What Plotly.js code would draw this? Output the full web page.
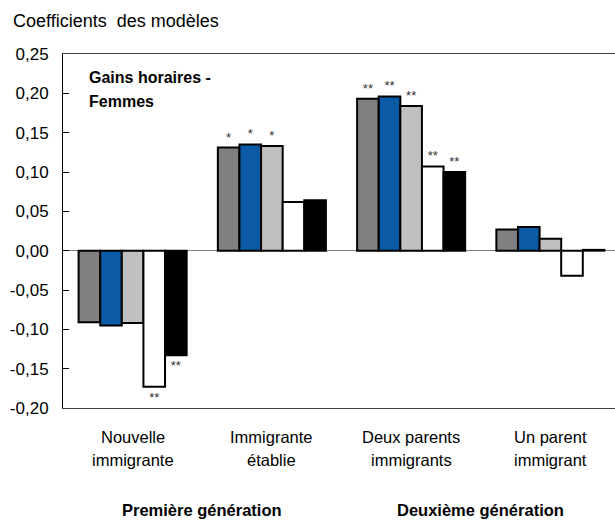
<!DOCTYPE html>
<html>
<head>
<meta charset="utf-8">
<script src="https://cdn.plot.ly/plotly-3.0.1.min.js"></script>
<style>
html,body{margin:0;padding:0;overflow:hidden;background:#fff;}
#chart{width:615px;height:521px;}
</style>
</head>
<body>
<div id="chart"></div>
<script>
// ---- data ----
const categories = ["Nouvelle<br>immigrante", "Immigrante<br>établie", "Deux parents<br>immigrants", "Un parent<br>immigrant"];
const seriesNames = ["Modèle 1", "Modèle 2", "Modèle 3", "Modèle 4", "Modèle 5"];
const model1 = [-0.091, 0.131, 0.193, 0.027];
const model2 = [-0.095, 0.135, 0.196, 0.030];
const model3 = [-0.092, 0.133, 0.184, 0.015];
const model4 = [-0.173, 0.062, 0.107, -0.032];
const model5 = [-0.133, 0.064, 0.100, 0.001];
const sig1 = ["", "*", "**", ""];
const sig2 = ["", "*", "**", ""];
const sig3 = ["", "*", "**", ""];
const sig4 = ["**", "", "**", ""];
const sig5 = ["**", "", "**", ""];
const tickValues = [-0.20, -0.15, -0.10, -0.05, 0.00, 0.05, 0.10, 0.15, 0.20, 0.25];
const tickLabels = ["-0,20", "-0,15", "-0,10", "-0,05", "0,00", "0,05", "0,10", "0,15", "0,20", "0,25"];
const groupLabels = ["Première génération", "Deuxième génération"];
const yTitle = "Coefficients\u00a0 des modèles";
const panelTitle = ["Gains horaires -", "Femmes"];

// ---- styles ----
const colors = ["#808080", "#0b5aa6", "#c0c0c0", "#ffffff", "#000000"];
const FONT = "Liberation Sans, Arial, sans-serif";
const values = [model1, model2, model3, model4, model5];
const sigs = [sig1, sig2, sig3, sig4, sig5];

const traces = values.map((v, i) => ({
  type: "bar",
  name: seriesNames[i],
  x: categories,
  y: v,
  text: sigs[i],
  textposition: "outside",
  textfont: {family: FONT, size: 13, color: "#333"},
  cliponaxis: false,
  constraintext: "none",
  marker: {color: colors[i], line: {color: "#000", width: 2}},
  hoverinfo: "skip"
}));

const annotations = [];
categories.forEach((c) => {
  const parts = c.split("<br>");
  parts.forEach((p, j) => {
    annotations.push({
      x: c, xref: "x", y: 0, yref: "paper",
      text: p, showarrow: false, xanchor: "center", yanchor: "middle",
      yshift: -29 - 23 * j,
      font: {family: FONT, size: 16.5, color: "#000"}
    });
  });
});
groupLabels.forEach((g, k) => {
  annotations.push({
    x: 0.5 + 2 * k, xref: "x", y: 0, yref: "paper",
    text: "<b>" + g + "</b>", showarrow: false, xanchor: "center", yanchor: "middle",
    yshift: -102,
    font: {family: FONT, size: 16.5, color: "#000"}
  });
});
annotations.push({
  x: 0, xref: "paper", y: 1, yref: "paper", xanchor: "left", yanchor: "middle",
  xshift: -52, yshift: 33, showarrow: false, text: yTitle,
  font: {family: FONT, size: 18, color: "#000"}
});
panelTitle.forEach((t, j) => {
  annotations.push({
    x: 0, xref: "paper", y: 1, yref: "paper", xanchor: "left", yanchor: "middle",
    xshift: 24, yshift: -23 - 24 * j, showarrow: false, text: "<b>" + t + "</b>",
    font: {family: FONT, size: 16, color: "#000"}
  });
});

const layout = {
  width: 615, height: 521,
  margin: {l: 63, r: 0, t: 54, b: 113},
  paper_bgcolor: "#fff", plot_bgcolor: "#fff",
  barmode: "group", bargap: 0.224, bargroupgap: 0,
  showlegend: false,
  font: {family: FONT, size: 16, color: "#000"},
  xaxis: {
    type: "category", range: [-0.5, 3.464],
    showticklabels: false, ticks: "",
    showline: true, mirror: true, linecolor: "#404040", linewidth: 1,
    showgrid: false, zeroline: false, fixedrange: true
  },
  yaxis: {
    range: [-0.20, 0.25],
    tickvals: tickValues, ticktext: tickLabels,
    ticks: "inside", ticklen: 6, tickcolor: "#000", tickwidth: 1,
    ticklabelstandoff: 10,
    tickfont: {family: FONT, size: 17, color: "#000"},
    showline: true, linecolor: "#000", linewidth: 1,
    showgrid: false,
    zeroline: true, zerolinecolor: "#808080", zerolinewidth: 1.5,
    fixedrange: true
  },
  annotations: annotations
};

Plotly.newPlot("chart", traces, layout, {displayModeBar: false, staticPlot: true});
</script>
</body>
</html>
